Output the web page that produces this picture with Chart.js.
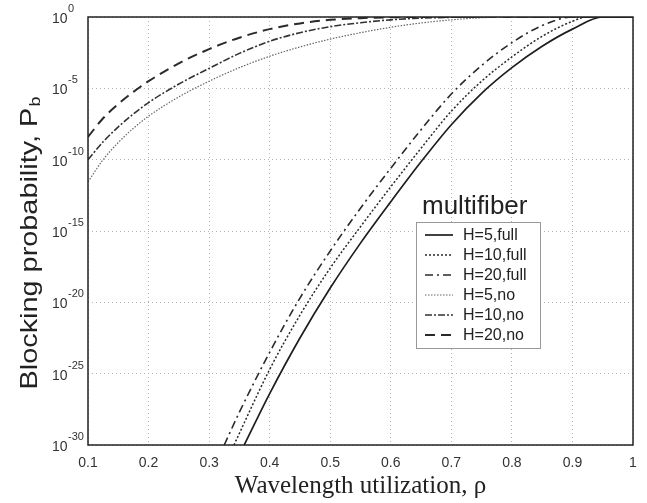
<!DOCTYPE html>
<html>
<head>
<meta charset="utf-8">
<script src="https://cdn.jsdelivr.net/npm/chart.js@4.4.1/dist/chart.umd.min.js"></script>
<style>
  html, body { margin: 0; padding: 0; background: #fff; }
  #wrap { width: 647px; height: 503px; }
</style>
</head>
<body>
<div id="wrap"><canvas id="myChart" width="647" height="503"></canvas></div>
<script>
// blocking probability curves, y values are log10(Pb)
var rhoFull5 = [0.358, 0.4, 0.45, 0.5, 0.55, 0.6, 0.65, 0.7, 0.75, 0.8, 0.85, 0.9, 0.95, 1.0];
var expFull5 = [-30, -26.4, -22.5, -19.0, -15.85, -12.95, -10.15, -7.55, -5.35, -3.55, -2.05, -0.85, 0, 0];

var rhoFull10 = [0.341, 0.4, 0.45, 0.5, 0.55, 0.6, 0.65, 0.7, 0.75, 0.8, 0.85, 0.9, 0.925, 1.0];
var expFull10 = [-30, -24.7, -20.9, -17.6, -14.7, -11.9, -9.2, -6.6, -4.5, -2.8, -1.35, -0.3, 0, 0];

var rhoFull20 = [0.325, 0.35, 0.4, 0.45, 0.5, 0.55, 0.6, 0.65, 0.7, 0.75, 0.8, 0.85, 0.9, 1.0];
var expFull20 = [-30, -27.7, -23.5, -19.7, -16.4, -13.4, -10.6, -7.9, -5.4, -3.4, -1.8, -0.6, 0, 0];

var rhoNo = [0.1, 0.125, 0.15, 0.175, 0.2, 0.25, 0.3, 0.35, 0.4, 0.45, 0.5, 0.55, 0.6, 0.65, 0.7, 0.75, 0.8, 1.0];
var expNo5  = [-11.55, -10.0, -8.8, -7.8, -6.95, -5.6, -4.5, -3.55, -2.75, -2.1, -1.55, -1.1, -0.72, -0.42, -0.2, -0.05, 0, 0];
var expNo10 = [-10, -8.75, -7.7, -6.8, -6.0, -4.7, -3.6, -2.55, -1.7, -1.1, -0.68, -0.4, -0.2, -0.08, -0.02, 0, 0, 0];
var expNo20 = [-8.4, -7.1, -6.1, -5.25, -4.5, -3.25, -2.25, -1.45, -0.85, -0.45, -0.2, -0.08, -0.02, 0, 0, 0, 0, 0];

var seriesLabels = ['H=5,full', 'H=10,full', 'H=20,full', 'H=5,no', 'H=10,no', 'H=20,no'];
var xTicks = [0.1, 0.2, 0.3, 0.4, 0.5, 0.6, 0.7, 0.8, 0.9, 1];
var yExps = [0, -5, -10, -15, -20, -25, -30];

function pts(rho, ex) {
  var out = [];
  for (var i = 0; i < rho.length; i++) {
    out.push({x: rho[i], y: Math.pow(10, ex[i])});
  }
  return out;
}

function ds(label, data, color, width, dash) {
  return {
    label: label,
    data: data,
    borderColor: color,
    backgroundColor: color,
    borderWidth: width,
    borderDash: dash,
    pointRadius: 0,
    fill: false,
    cubicInterpolationMode: 'monotone'
  };
}

var datasets = [
  ds(seriesLabels[0], pts(rhoFull5, expFull5), '#1e1e1e', 1.7, []),
  ds(seriesLabels[1], pts(rhoFull10, expFull10), '#2a2a2a', 1.5, [2, 2]),
  ds(seriesLabels[2], pts(rhoFull20, expFull20), '#2a2a2a', 1.6, [8, 4, 2, 4]),
  ds(seriesLabels[3], pts(rhoNo, expNo5), '#666666', 1.2, [1.5, 1.5]),
  ds(seriesLabels[4], pts(rhoNo, expNo10), '#333333', 1.6, [7, 2, 2, 2]),
  ds(seriesLabels[5], pts(rhoNo, expNo20), '#2a2a2a', 2, [10, 6])
];

var SANS = '"Liberation Sans", Arial, sans-serif';

// draws box, y tick labels with exponents, y title and the legend
var extras = {
  id: 'extras',
  afterDraw: function(chart) {
    var ctx = chart.ctx;
    var a = chart.chartArea;
    var ys = chart.scales.y;
    ctx.save();
    // frame
    ctx.strokeStyle = '#222';
    ctx.lineWidth = 1.5;
    ctx.setLineDash([]);
    ctx.strokeRect(a.left, a.top, a.right - a.left, a.bottom - a.top);

    // y tick labels 10^n
    ctx.fillStyle = '#333';
    ctx.textBaseline = 'middle';
    ctx.textAlign = 'left';
    yExps.forEach(function(e) {
      var py = ys.getPixelForValue(Math.pow(10, e));
      ctx.font = '14px ' + SANS;
      ctx.fillText('10', 52, py + 2);
      var w = ctx.measureText('10').width;
      ctx.font = '11px ' + SANS;
      ctx.fillText(String(e), 52 + w + 0.5, py - 8);
    });

    // y title with subscript, stretched along the axis like the original
    ctx.save();
    ctx.translate(37, 243);
    ctx.rotate(-Math.PI / 2);
    ctx.textBaseline = 'alphabetic';
    ctx.font = '24px ' + SANS;
    var main = 'Blocking probability, P';
    var mw = ctx.measureText(main).width;
    ctx.font = '15px ' + SANS;
    var sw = ctx.measureText('b').width;
    var total = mw + sw + 1;
    ctx.scale(293 / total, 1);
    var x0 = -total / 2;
    ctx.fillStyle = '#222';
    ctx.font = '24px ' + SANS;
    ctx.fillText(main, x0, 0);
    ctx.font = '15px ' + SANS;
    ctx.fillText('b', x0 + mw + 1, 3);
    ctx.restore();

    // legend
    ctx.fillStyle = '#222';
    ctx.font = '26px ' + SANS;
    ctx.textBaseline = 'alphabetic';
    ctx.fillText('multifiber', 422, 214);
    ctx.fillStyle = '#fff';
    ctx.fillRect(416, 222, 124, 126);
    ctx.strokeStyle = '#999';
    ctx.lineWidth = 1;
    ctx.strokeRect(416.5, 222.5, 124, 126);
    ctx.font = '16px ' + SANS;
    ctx.textBaseline = 'middle';
    chart.data.datasets.forEach(function(d, i) {
      var ry = 235 + i * 20;
      ctx.strokeStyle = d.borderColor;
      ctx.lineWidth = d.borderWidth;
      ctx.setLineDash(d.borderDash);
      ctx.beginPath();
      ctx.moveTo(425, ry);
      ctx.lineTo(453, ry);
      ctx.stroke();
      ctx.setLineDash([]);
      ctx.fillStyle = '#222';
      ctx.fillText(d.label, 463, ry + 1);
    });
    ctx.restore();
  }
};

var config = {
  type: 'line',
  data: { datasets: datasets },
  options: {
    responsive: false,
    animation: false,
    layout: { padding: { top: 17, right: 14, left: 0, bottom: 0 } },
    plugins: {
      legend: { display: false },
      tooltip: { enabled: false }
    },
    scales: {
      x: {
        type: 'linear',
        min: 0.1,
        max: 1,
        afterBuildTicks: function(s) {
          s.ticks = xTicks.map(function(v) { return {value: v}; });
        },
        afterFit: function(s) { s.height = 58; },
        grid: { color: '#b5b5b5', lineWidth: 1, drawTicks: false },
        border: { display: false, dash: [1, 3] },
        ticks: {
          padding: 10,
          color: '#333',
          font: { size: 14, family: SANS },
          maxRotation: 0,
          callback: function(v) { return v === 1 ? '1' : v.toFixed(1); }
        },
        title: {
          display: true,
          text: 'Wavelength utilization, \u03c1',
          color: '#222',
          font: { size: 25, family: '"Liberation Serif", "Times New Roman", serif' },
          padding: { top: 0, bottom: 2 }
        }
      },
      y: {
        type: 'logarithmic',
        min: 1e-30,
        max: 1,
        afterBuildTicks: function(s) {
          s.ticks = yExps.map(function(e) { return {value: Math.pow(10, e)}; });
        },
        afterFit: function(s) { s.width = 88; },
        grid: { color: '#b5b5b5', lineWidth: 1, drawTicks: false },
        border: { display: false, dash: [1, 3] },
        ticks: { display: false }
      }
    }
  },
  plugins: [extras]
};

var myChart = new Chart(document.getElementById('myChart'), config);
</script>
</body>
</html>
